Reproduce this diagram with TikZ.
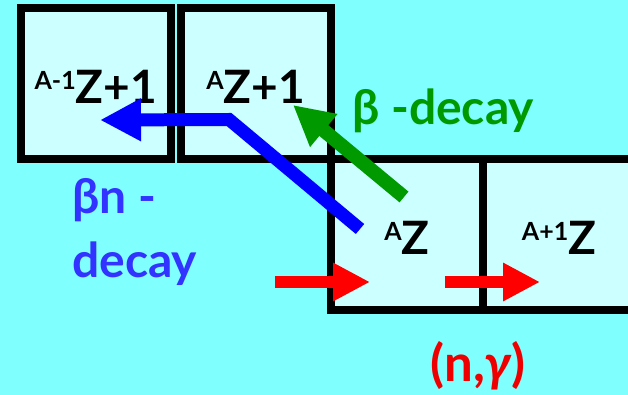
\documentclass[tikz,border=0pt]{standalone}
\usepackage{fontspec}
\setmainfont{Lato}
\usetikzlibrary{arrows.meta,positioning}
\definecolor{SeaCyan}{HTML}{80FFFF}
\definecolor{CellCyan}{HTML}{CCFFFF}
\definecolor{DecayGreen}{HTML}{009900}
\definecolor{DecayBlue}{HTML}{3333FF}
\definecolor{CaptureRed}{HTML}{EE0000}
\newcommand{\nucl}[2]{{\fontsize{25}{25}\selectfont\raisebox{14pt}{#1}}#2}

\begin{document}
\begin{tikzpicture}[x=1pt,y=-1pt,
    cell/.style={draw=black,line width=8pt,fill=CellCyan,inner sep=0pt,
      minimum height=151pt,text height=40pt,
      font=\fontsize{46}{46}\selectfont\bfseries},
    fatarrow/.style={line width=#1,-{Triangle[length=40pt,width=40pt]}},
    caparrow/.style={draw=red,line width=12pt,-{Triangle[length=37pt,width=36pt]}}]
  \clip (0,0) rectangle (628,395);
  \fill[SeaCyan] (0,0) rectangle (628,395);
  % chart cells
  \node[cell,minimum width=149.5pt] (bndaughter) at (95.75,83.25) {\nucl{A-1}{Z+1}};
  \node[cell,minimum width=150.5pt] (daughter) at (255.75,83.25) {\nucl{A}{Z+1}};
  \node[cell,minimum width=152pt] (parent) at (407,234.5) {\nucl{A}{Z}};
  \node[cell,minimum width=152pt] (capture) at (559,234.5) {\nucl{A+1}{Z}};
  % end points of the arrows
  \coordinate (bn start) at (360,229);
  \coordinate (bn bend) at (229,119.5);
  \coordinate (bn tip) at (100,120);
  \coordinate (b start) at (404,197);
  \coordinate (b tip) at (293,105);
  \coordinate (ng1 start) at (275,282);
  \coordinate (ng1 tip) at (370,282);
  \coordinate (ng2 start) at (445,282);
  \coordinate (ng2 tip) at (540,282);
  \draw[blue,fatarrow=13pt,{Triangle[length=41pt,width=40pt]}-] (bn tip) -- (bn bend) -- (bn start);
  \draw[DecayGreen,fatarrow=14pt] (b start) -- (b tip);
  \draw[caparrow] (ng1 start) -- (ng1 tip);
  \draw[caparrow] (ng2 start) -- (ng2 tip);
  % labels
  \node[anchor=base west,text=DecayGreen,inner sep=0pt,
    font=\fontsize{48}{48}\selectfont\bfseries] (betalabel) at (352,125) {β -decay};
  \node[anchor=base west,text=DecayBlue,inner sep=0pt,align=left,
    font=\fontsize{48}{64}\selectfont\bfseries] (bnlabel) at (72,277) {βn -\\decay};
  \node[anchor=base,text=CaptureRed,inner sep=0pt,
    font=\fontsize{51}{51}\selectfont\bfseries] (nglabel) at (478,381) {(n,{\itshape γ})};
\end{tikzpicture}
\end{document}
